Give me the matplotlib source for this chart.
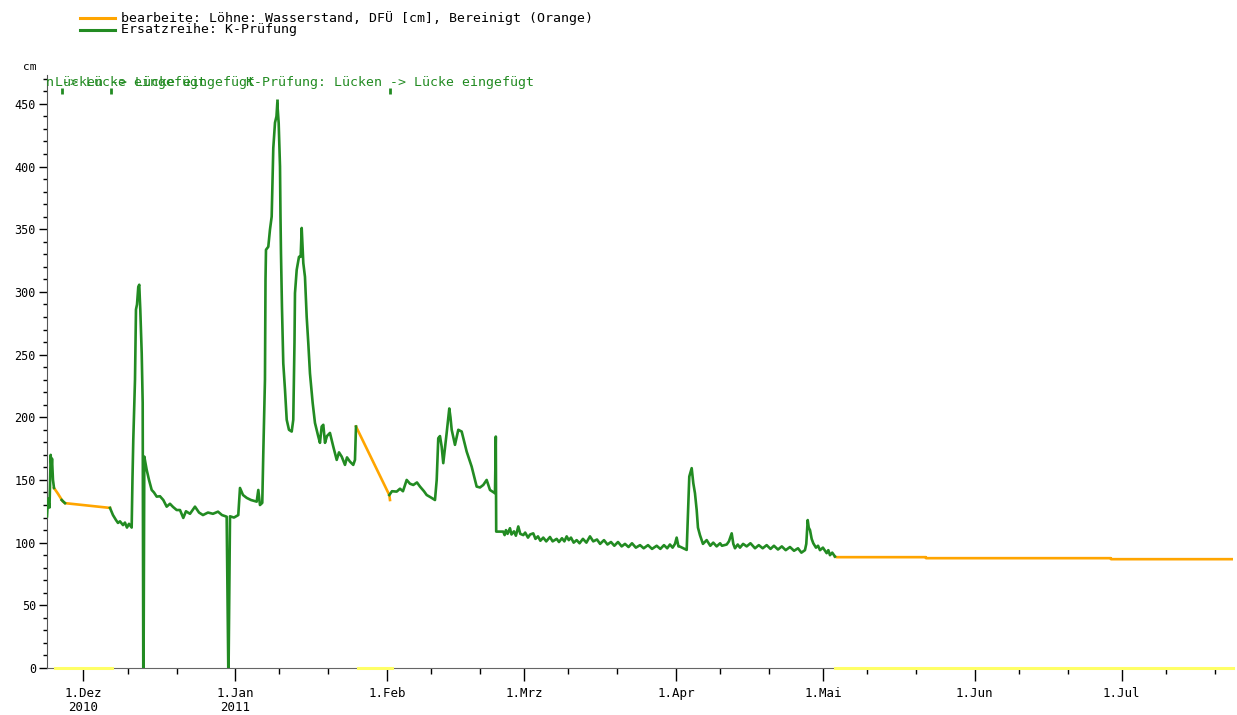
import numpy as np
import pandas as pd
import matplotlib
matplotlib.use("Agg")
import matplotlib.pyplot as plt
from matplotlib.lines import Line2D

DPI = 100
W, H = 1237, 715

plt.rcParams['font.family'] = ['DejaVu Sans Mono', 'DejaVu Sans']

# alle Zeiten als Tage ab 1.12.2010
t0 = pd.Timestamp("2010-12-01")

# Ersatzreihe (gruen), Stuecke ohne Luecken
gruen_a_tage = [-7.45, -7.25, -6.94, -6.70, -6.53, -6.43, -6.23, -6.02]
gruen_a_cm = [121, 135, 128, 170, 160, 167, 150, 143.6]

gruen_b_tage = [-4.45, -3.78]
gruen_b_cm = [134, 131.5]

gruen_c_tage = [5.41, 6.02, 6.64, 7.05, 7.45, 8.07, 8.47, 8.88, 9.29, 9.84,
                10.0, 10.17, 10.52, 10.72, 10.93, 11.19, 11.39, 11.5, 11.60, 11.89,
                12.09, 12.21, 12.27, 12.42, 12.91, 13.38, 13.93, 14.40, 14.95, 15.62,
                16.30, 16.99, 17.66, 18.28, 19.03, 19.71, 20.38, 20.93, 21.75, 22.77,
                23.59, 24.40, 25.42, 26.44, 27.47, 28.28, 29.24, 29.57, 29.63, 29.92,
                30.73, 31.61, 31.96, 32.57, 33.33, 34.20, 35.37, 35.70, 36.04, 36.51,
                36.72, 37.06, 37.17, 37.27, 37.74, 38.08, 38.43, 38.76, 39.11, 39.41,
                39.58, 39.86, 40.13, 40.23, 40.33, 40.53, 40.80, 41.15, 41.50, 41.96,
                42.52, 42.84, 43.09, 43.19, 43.54, 44.01, 44.35, 44.56, 44.89, 45.23,
                45.58, 45.91, 46.25, 46.80, 47.27, 47.95, 48.29, 48.64, 48.97, 49.32,
                49.72, 50.33, 51.01, 51.71, 52.18, 52.73, 53.40, 53.81, 54.42, 55.09,
                55.44, 55.65]
gruen_c_cm = [127.7, 122, 118, 115.7, 117, 114, 116, 112, 115, 112,
              150, 182, 230, 286, 290, 304, 305.7, 295, 286, 251,
              211.5, 0, 0, 168.6, 158, 150, 142, 140, 136.7, 137,
              134, 128.7, 131, 128.5, 126, 126, 119.7, 125, 123, 128.7,
              124, 122, 124, 123, 124.7, 122, 120.7, 0, 0, 121,
              120, 122, 143.6, 138, 135.7, 134, 132.7, 142, 130, 131.7,
              171.6, 230, 309.6, 333.6, 336, 349.6, 360, 414.7, 435, 440,
              450.6, 434.7, 400, 360, 331, 288, 243, 222, 198, 190,
              188.6, 198, 260, 299, 317.6, 328, 328, 351, 323, 312,
              280, 259, 235, 211.5, 195.5, 184.6, 179.6, 192.6, 194, 179.6,
              185, 187.5, 176.6, 166, 172, 168.6, 162, 168, 164.6, 162,
              166, 192.6]

gruen_d_tage = [62.45, 63.0, 63.96, 64.63, 65.24, 66.0, 66.67, 67.35, 68.1, 68.72,
                69.53, 70.08, 70.96, 71.78, 72.13, 72.45, 72.8, 73.14, 73.47, 74.16,
                74.70, 74.94, 75.19, 75.86, 76.54, 77.23, 78.25, 79.27, 80.29, 80.97,
                81.64, 82.33, 83.01, 84.03, 84.2, 84.28,
                85.72, 86.0, 86.27, 86.6, 87.09, 87.4, 87.91, 88.3, 88.79, 89.2,
                89.81, 90.2, 90.77, 91.2, 91.85, 92.3, 92.81, 93.3, 93.89, 94.5,
                95.26, 95.8, 96.63, 97.1, 97.71, 98.2, 98.67, 99.1, 99.55, 100.1,
                100.71, 101.3, 101.99, 102.7, 103.43, 104.1, 104.86, 105.5, 106.29, 107.0,
                107.72, 108.4, 109.15, 109.9, 110.58, 111.3, 112.01, 112.8, 113.65, 114.4,
                115.28, 116.1, 117.05, 117.8, 118.54, 119.2, 119.76, 120.3, 120.79, 121.13,
                121.5, 121.81, 122.5, 123.18, 123.71, 124.20, 124.53, 124.87, 125.22, 125.48,
                125.89, 126.5, 127.26, 128.0, 128.6, 129.30, 130.0, 130.38, 131.35, 131.8,
                132.37, 132.7, 133.04, 133.6, 134.06, 134.7, 135.43, 136.2, 137.13, 137.9,
                138.7, 139.51, 140.3, 141.0, 141.82, 142.6, 143.4, 144.27, 145.1, 145.91,
                146.6, 147.33, 147.6, 147.89, 148.1, 148.36, 148.7, 149.03, 149.58, 150.0,
                150.40, 151.0, 151.76, 152.1, 152.44, 152.9, 153.46]
gruen_d_cm = [138, 141, 140.7, 143, 141, 150, 147, 146, 148, 144.7,
              141, 138, 136, 134, 150, 183.3, 185, 176.6, 163.4, 187.3,
              207, 200, 190, 178, 190, 188.6, 172.6, 160.6, 144.7, 144,
              146, 150, 142, 139.4, 184.6, 108.8,
              108.8, 106, 110, 107, 111.5, 106.5, 109, 105.5, 112.9, 107,
              106, 108, 104, 106.5, 107.4, 103, 105, 101.5, 104, 101,
              104.5, 101, 103, 100.5, 103.5, 101, 105, 102, 104, 100,
              102, 99.5, 103, 100, 105, 101, 102.5, 99, 102, 98.5,
              100.5, 97.5, 100.5, 97, 99, 96.5, 99.5, 96, 98, 95.5,
              98, 95, 97.5, 95, 98, 95.5, 98.5, 96, 99, 104,
              97, 96.8, 95.5, 94.2, 152.7, 159.4, 147.4, 139.4, 126, 112,
              106, 99, 102, 97.5, 100, 97, 99.5, 97.5, 98.5, 101,
              107.4, 99, 95.5, 98.5, 96, 99, 97, 99.5, 95.5, 98,
              95.5, 98, 95, 97.5, 94.5, 97, 94, 96.5, 93.5, 95.5,
              92, 94, 99, 118, 112, 110, 103, 99.5, 96, 97.5,
              94, 96, 91.6, 94, 90, 92, 88.9]

# bearbeitete Reihe (orange), sichtbar nur in den Luecken
orange_a_tage = [-6.02, -5.21, -4.25, -3.78, 5.41]
orange_a_cm = [143.6, 139, 133, 131.5, 127.7]
orange_b_tage = [55.65, 62.45, 62.59]
orange_b_cm = [192.6, 138, 134]
orange_c_tage = [153.46, 153.8, 172.04, 172.05, 209.82, 209.83, 234.74]
orange_c_cm = [88.9, 88.4, 88.4, 87.6, 87.6, 86.8, 86.8]

# Lueckenbereiche (gelb auf der x-Achse)
luecke_start = [-5.82, 55.99, 153.46]
luecke_ende = [5.82, 62.9, 234.74]

# Markierungen oben
mark_tage = [-4.39, 5.62, 39.51, 62.59]
mark_cm = [460.5, 460.5, 451.5, 460.5]
mark_text = ["K-Prüfung: Lücken -> Lücke eingefügt",
             "K-Prüfung: Lücken -> Lücke eingefügt",
             "",
             "K-Prüfung: Lücken -> Lücke eingefügt"]

monat_ticks = ["2010-12-01", "2011-01-01", "2011-02-01", "2011-03-01",
               "2011-04-01", "2011-05-01", "2011-06-01", "2011-07-01"]
monat_labels = ["1.Dez\n2010", "1.Jan\n2011", "1.Feb", "1.Mrz",
                "1.Apr", "1.Mai", "1.Jun", "1.Jul"]

x_start, x_ende = -7.45, 234.74
y_max = 473

GRUEN = "#228B22"
ORANGE = "#FFA500"


def zeit(tage):
    return t0 + pd.to_timedelta(np.asarray(tage, dtype=float), unit="D")


fig = plt.figure(figsize=(W / DPI, H / DPI), dpi=DPI)
ax = fig.add_axes([47 / W, (H - 668) / H, (1233 - 47) / W, (668 - 75) / H])

for t, v in [(orange_a_tage, orange_a_cm), (orange_b_tage, orange_b_cm),
             (orange_c_tage, orange_c_cm)]:
    ax.plot(zeit(t), v, color=ORANGE, lw=1.9, zorder=2)

for t, v in [(gruen_a_tage, gruen_a_cm), (gruen_b_tage, gruen_b_cm),
             (gruen_c_tage, gruen_c_cm), (gruen_d_tage, gruen_d_cm)]:
    ax.plot(zeit(t), v, color=GRUEN, lw=1.9, zorder=3)

for s, e in zip(luecke_start, luecke_ende):
    ax.plot(zeit([s, e]), [0, 0], color="#FFFF66", lw=2.2, clip_on=False, zorder=5)

for t, v, txt in zip(mark_tage, mark_cm, mark_text):
    ax.plot(zeit([t]), [v], marker="|", ms=5, mew=2, color=GRUEN, zorder=4)
    if txt:
        ax.text(zeit([t])[0], 467, txt, color=GRUEN, fontsize=9.5,
                ha="center", va="center", clip_on=True)

ax.set_xticks(pd.to_datetime(monat_ticks))
ax.set_xticklabels(monat_labels, fontsize=9, linespacing=1.1)
minor = pd.date_range("2010-11-01", "2011-07-31")
minor = minor[(minor.day == 10) | (minor.day == 20)]
ax.set_xticks(minor, minor=True)

ax.set_yticks(np.arange(0, 451, 50))
ax.set_yticks(np.arange(0, 471, 10), minor=True)
ax.tick_params(axis="y", which="major", length=6, width=1, labelsize=8.5, pad=2)
ax.tick_params(axis="y", which="minor", length=3, width=1)
ax.tick_params(axis="x", which="major", length=9, width=1, pad=5)
ax.tick_params(axis="x", which="minor", length=4, width=1)

# Grenzen erst nach den Ticks setzen
ax.set_xlim(zeit([x_start])[0], zeit([x_ende])[0])
ax.set_ylim(0, y_max)

for side in ["top", "right"]:
    ax.spines[side].set_visible(False)
ax.spines["left"].set_color("#555555")
ax.spines["bottom"].set_color("#666666")

fig.text(30 / W, 1 - 67 / H, "cm", fontsize=8, ha="center", va="center")

# Legende oben links
for yy, col, txt in [(18, ORANGE, "bearbeite: Löhne: Wasserstand, DFÜ [cm], Bereinigt (Orange)"),
                     (30, GRUEN, "Ersatzreihe: K-Prüfung")]:
    fig.add_artist(Line2D([80 / W, 115 / W], [1 - yy / H, 1 - yy / H],
                          color=col, lw=2.2, transform=fig.transFigure))
    fig.text(121 / W, 1 - yy / H, txt, fontsize=9.5, ha="left", va="center")

fig.savefig("out.png", dpi=DPI)
